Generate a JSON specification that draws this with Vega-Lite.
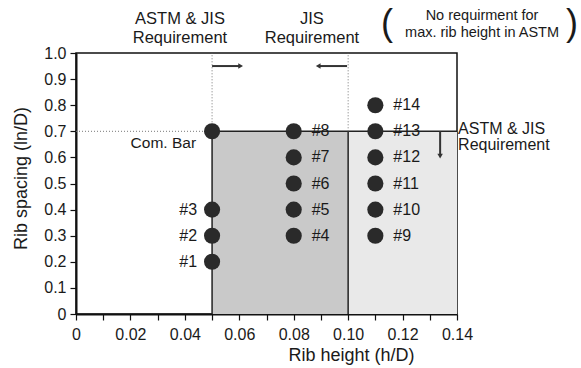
{
  "$schema": "https://vega.github.io/schema/vega-lite/v6.json",
  "width": 381,
  "height": 261,
  "autosize": "none",
  "padding": {"left": 76, "top": 53, "right": 124, "bottom": 54},
  "background": "white",
  "config": {
    "view": {"stroke": "#111", "strokeWidth": 1.5},
    "font": "Liberation Sans",
    "axis": {
      "domainColor": "#111", "domainWidth": 2, "tickColor": "#111", "tickWidth": 1.2, "tickSize": 6,
      "labelFont": "Liberation Sans", "labelFontSize": 16, "labelColor": "#1a1a1a", "labelPadding": 4,
      "titleFont": "Liberation Sans", "titleFontSize": 18, "titleFontWeight": "normal", "titleColor": "#1a1a1a",
      "grid": false
    }
  },
  "datasets": {
    "points": [
      {"label": "Com. Bar", "h": 0.05, "s": 0.7, "side": "com"},
      {"label": "#1", "h": 0.05, "s": 0.2, "side": "left"},
      {"label": "#2", "h": 0.05, "s": 0.3, "side": "left"},
      {"label": "#3", "h": 0.05, "s": 0.4, "side": "left"},
      {"label": "#4", "h": 0.08, "s": 0.3, "side": "right"},
      {"label": "#5", "h": 0.08, "s": 0.4, "side": "right"},
      {"label": "#6", "h": 0.08, "s": 0.5, "side": "right"},
      {"label": "#7", "h": 0.08, "s": 0.6, "side": "right"},
      {"label": "#8", "h": 0.08, "s": 0.7, "side": "right"},
      {"label": "#9", "h": 0.11, "s": 0.3, "side": "right"},
      {"label": "#10", "h": 0.11, "s": 0.4, "side": "right"},
      {"label": "#11", "h": 0.11, "s": 0.5, "side": "right"},
      {"label": "#12", "h": 0.11, "s": 0.6, "side": "right"},
      {"label": "#13", "h": 0.11, "s": 0.7, "side": "right"},
      {"label": "#14", "h": 0.11, "s": 0.8, "side": "right"}
    ],
    "dense": [{"h": 0.05, "h2": 0.10, "s": 0, "s2": 0.7}],
    "light": [{"h": 0.10, "h2": 0.14, "s": 0, "s2": 0.7}],
    "solid": [
      {"h": 0.05, "h2": 0.05, "s": 0, "s2": 0.7},
      {"h": 0.10, "h2": 0.10, "s": 0, "s2": 0.7},
      {"h": 0.05, "h2": 0.14, "s": 0.7, "s2": 0.7}
    ],
    "dotted": [
      {"h": 0, "h2": 0.05, "s": 0.7, "s2": 0.7},
      {"h": 0.05, "h2": 0.05, "s": 0.7, "s2": 1.0},
      {"h": 0.10, "h2": 0.10, "s": 0.7, "s2": 1.0}
    ],
    "shafts": [
      {"h": 0.05, "h2": 0.060, "s": 0.95, "s2": 0.95},
      {"h": 0.0895, "h2": 0.0996, "s": 0.95, "s2": 0.95},
      {"h": 0.1338, "h2": 0.1338, "s": 0.7, "s2": 0.61}
    ],
    "heads": [
      {"h": 0.0605, "s": 0.95, "dir": "right"},
      {"h": 0.0890, "s": 0.95, "dir": "left"},
      {"h": 0.1338, "s": 0.605, "dir": "down"}
    ],
    "notes": [
      {"h": 0.0382, "s": 1.132, "text": "ASTM & JIS\nRequirement"},
      {"h": 0.0867, "s": 1.132, "text": "JIS\nRequirement"}
    ],
    "smallnote": [
      {"h": 0.1492, "s": 1.14, "text": "No requirment for\nmax. rib height in ASTM"}
    ],
    "parens": [
      {"h": 0.1143, "s": 1.11, "text": "("},
      {"h": 0.1823, "s": 1.11, "text": ")"}
    ],
    "rightnote": [
      {"h": 0.1404, "s": 0.709, "text": "ASTM & JIS\nRequirement"}
    ]
  },
  "encoding": {
    "x": {"field": "h", "type": "quantitative",
      "scale": {"domain": [0, 0.14], "nice": false, "zero": false},
      "axis": {
        "values": [0, 0.01, 0.02, 0.03, 0.04, 0.05, 0.06, 0.07, 0.08, 0.09, 0.1, 0.11, 0.12, 0.13, 0.14],
        "labelExpr": "datum.value == 0 ? '0' : (round(datum.value * 100) % 2 == 0 ? format(datum.value, '.2f') : '')",
        "title": "Rib height (h/D)", "titleX": 275, "titleY": 41, "titleBaseline": "middle", "titleAlign": "center",
        "labelFlush": false, "labelOverlap": false, "labelPadding": 6
      }},
    "y": {"field": "s", "type": "quantitative",
      "scale": {"domain": [0, 1], "nice": false, "zero": false},
      "axis": {
        "values": [0, 0.1, 0.2, 0.3, 0.4, 0.5, 0.6, 0.7, 0.8, 0.9, 1.0],
        "labelExpr": "datum.value == 0 ? '0' : format(datum.value, '.1f')",
        "title": "Rib spacing (ln/D)", "titleX": -55, "titleY": 125, "titleBaseline": "middle", "titleAlign": "center",
        "labelFlush": false, "labelOverlap": false
      }}
  },
  "layer": [
    {
      "data": {"name": "dense"},
      "mark": {"type": "rect", "fill": "#c9c9c9"},
      "encoding": {"x2": {"field": "h2"}, "y2": {"field": "s2"}}
    },
    {
      "data": {"name": "light"},
      "mark": {"type": "rect", "fill": "#e9e9e9"},
      "encoding": {"x2": {"field": "h2"}, "y2": {"field": "s2"}}
    },
    {
      "data": {"name": "solid"},
      "mark": {"type": "rule", "color": "#222", "strokeWidth": 1.5},
      "encoding": {"x2": {"field": "h2"}, "y2": {"field": "s2"}}
    },
    {
      "data": {"name": "dotted"},
      "mark": {"type": "rule", "color": "#777", "strokeWidth": 1, "strokeDash": [1, 2]},
      "encoding": {"x2": {"field": "h2"}, "y2": {"field": "s2"}}
    },
    {
      "data": {"name": "shafts"},
      "mark": {"type": "rule", "color": "#333", "strokeWidth": 2},
      "encoding": {"x2": {"field": "h2"}, "y2": {"field": "s2"}}
    },
    {
      "data": {"name": "heads"},
      "mark": {"type": "point", "filled": true, "color": "#333", "size": 30, "opacity": 1},
      "encoding": {
        "shape": {"field": "dir", "type": "nominal",
          "scale": {"domain": ["right", "left", "down"], "range": ["triangle-right", "triangle-left", "triangle-down"]},
          "legend": null}
      }
    },
    {
      "data": {"name": "points"},
      "mark": {"type": "circle", "color": "#2a2a2a", "size": 260, "opacity": 1},
      "encoding": {}
    },
    {
      "data": {"name": "points"},
      "transform": [{"filter": "datum.side == 'right'"}],
      "mark": {"type": "text", "align": "left", "baseline": "middle", "dx": 18, "fontSize": 16, "color": "#1a1a1a"},
      "encoding": {"text": {"field": "label"}}
    },
    {
      "data": {"name": "points"},
      "transform": [{"filter": "datum.side == 'left'"}],
      "mark": {"type": "text", "align": "right", "baseline": "middle", "dx": -15, "fontSize": 16, "color": "#1a1a1a"},
      "encoding": {"text": {"field": "label"}}
    },
    {
      "data": {"name": "points"},
      "transform": [{"filter": "datum.side == 'com'"}],
      "mark": {"type": "text", "align": "right", "baseline": "middle", "dx": -16, "dy": 12, "fontSize": 15.5, "color": "#1a1a1a"},
      "encoding": {"text": {"field": "label"}}
    },
    {
      "data": {"name": "notes"},
      "mark": {"type": "text", "align": "center", "baseline": "middle", "fontSize": 16.5, "lineBreak": "\n", "lineHeight": 19, "color": "#1a1a1a"},
      "encoding": {"text": {"field": "text"}}
    },
    {
      "data": {"name": "smallnote"},
      "mark": {"type": "text", "align": "center", "baseline": "middle", "fontSize": 14.5, "lineBreak": "\n", "lineHeight": 17, "color": "#1a1a1a"},
      "encoding": {"text": {"field": "text"}}
    },
    {
      "data": {"name": "parens"},
      "mark": {"type": "text", "align": "center", "baseline": "middle", "fontSize": 36, "color": "#1a1a1a"},
      "encoding": {"text": {"field": "text"}}
    },
    {
      "data": {"name": "rightnote"},
      "mark": {"type": "text", "align": "left", "baseline": "middle", "fontSize": 16, "lineBreak": "\n", "lineHeight": 16, "color": "#1a1a1a"},
      "encoding": {"text": {"field": "text"}}
    }
  ]
}
